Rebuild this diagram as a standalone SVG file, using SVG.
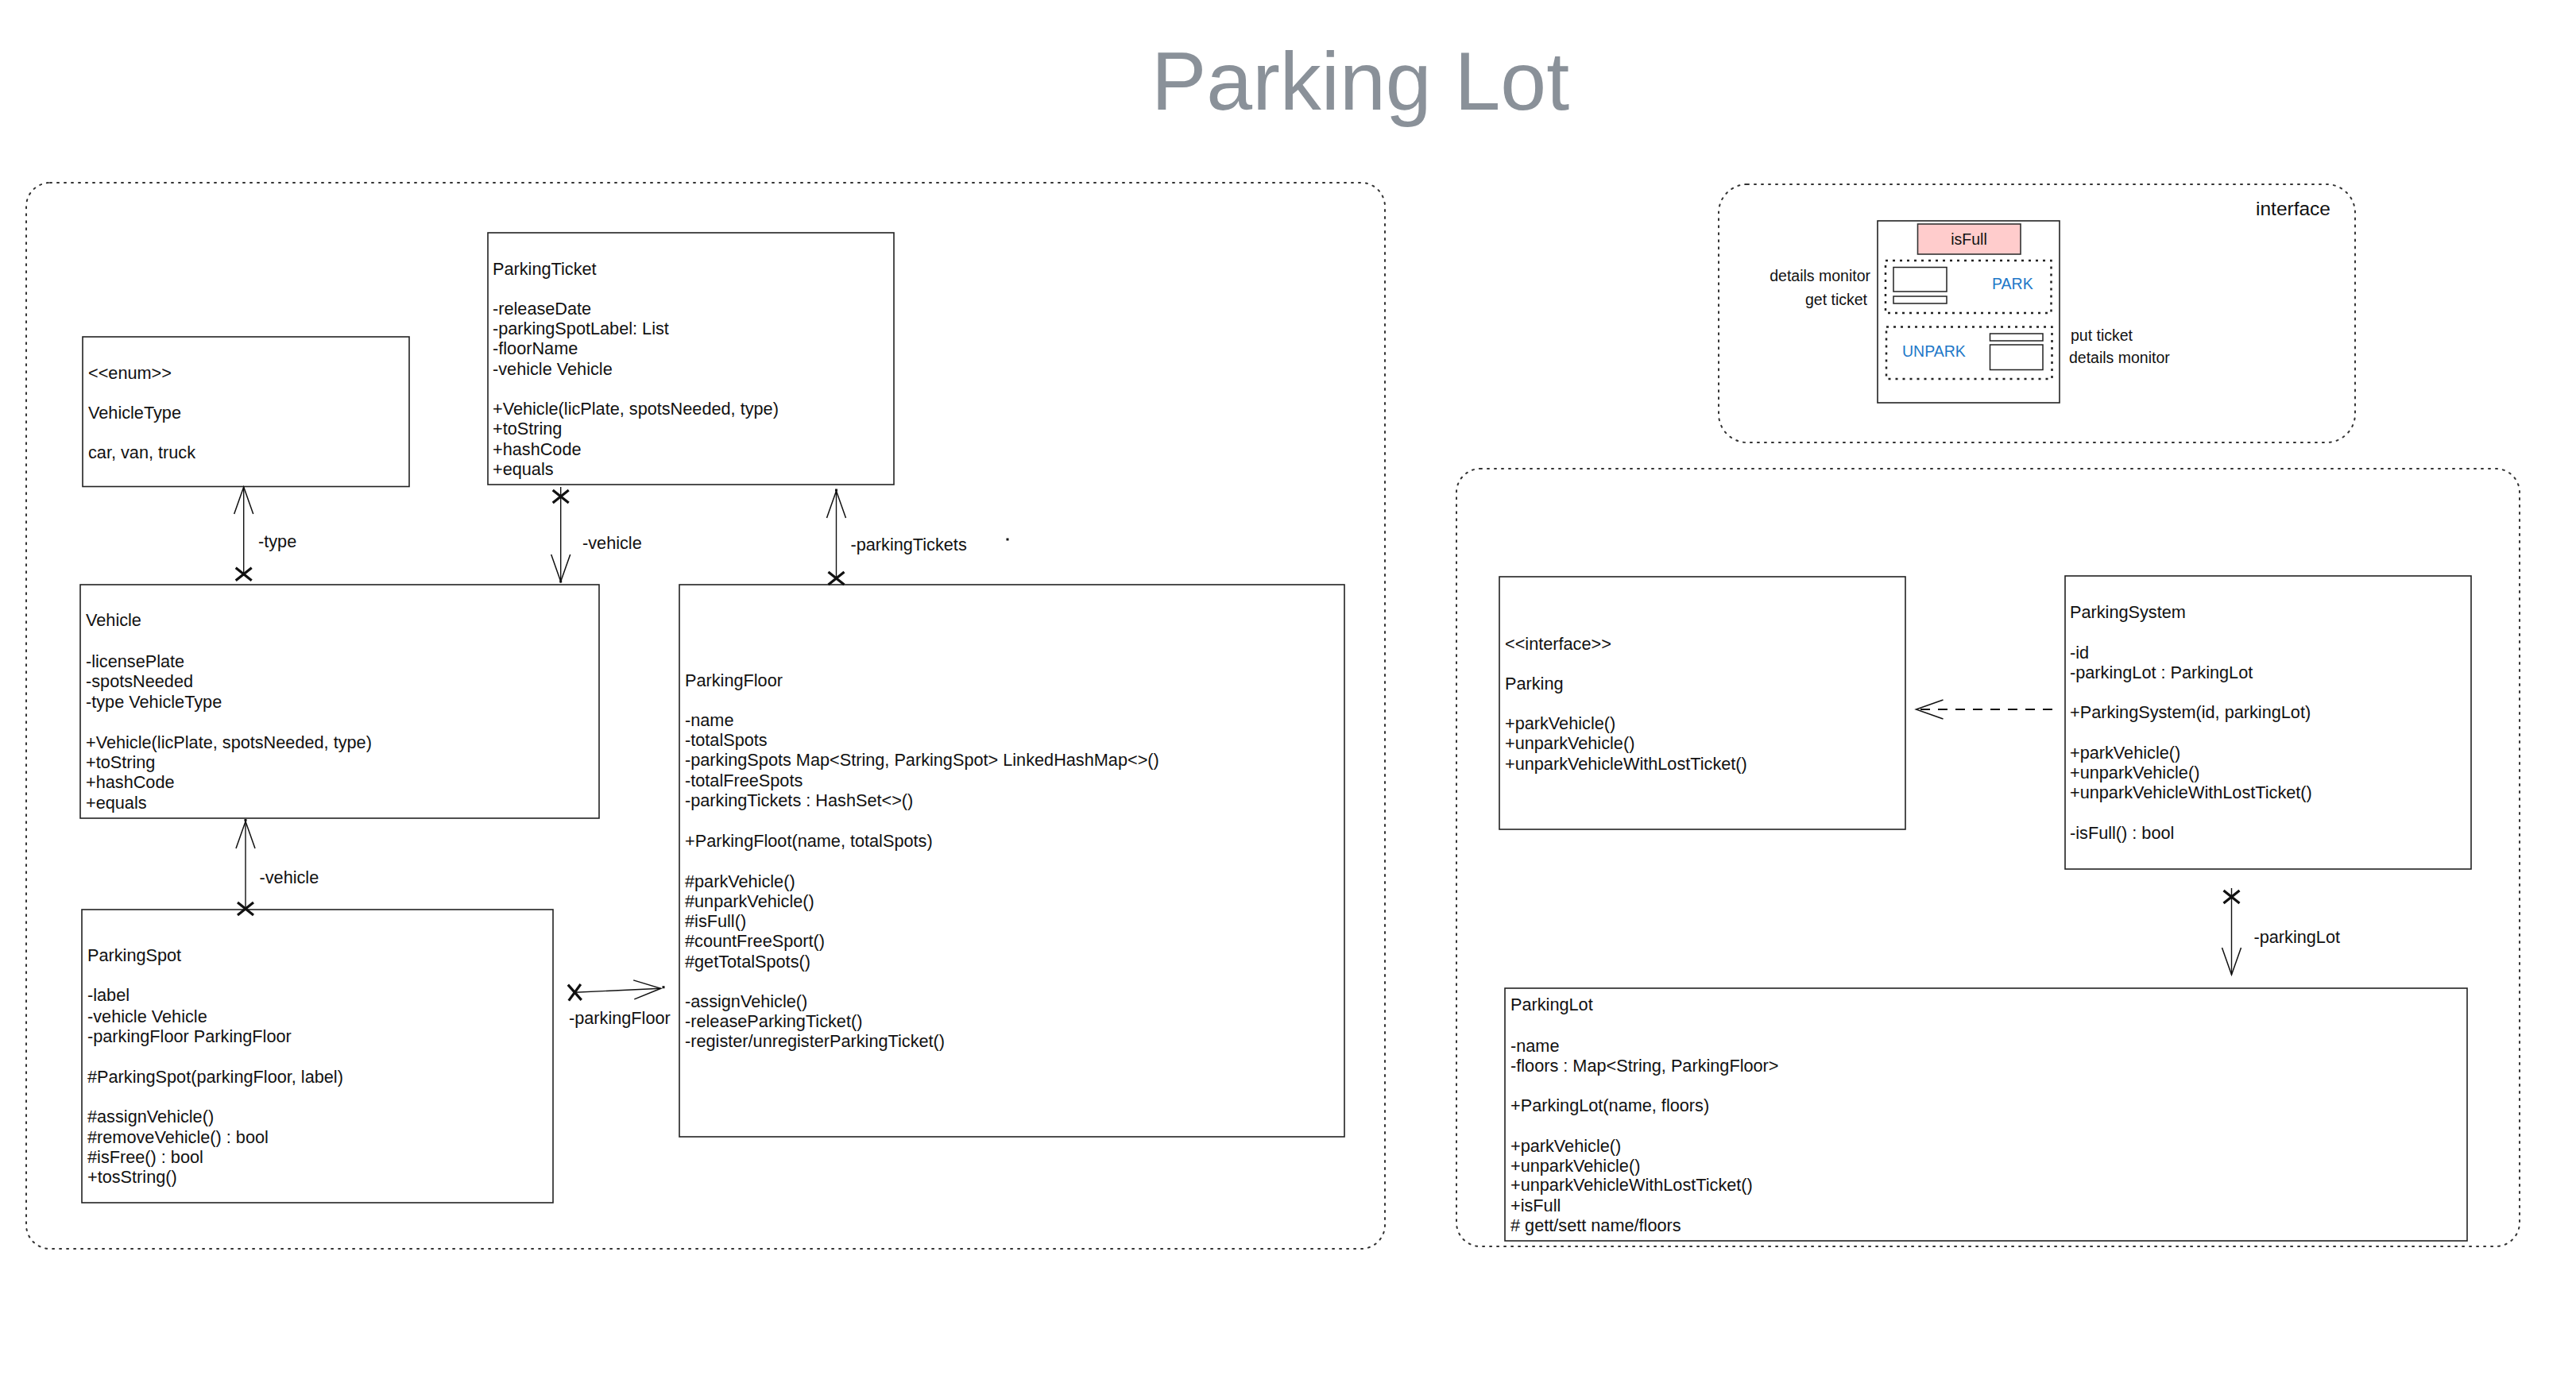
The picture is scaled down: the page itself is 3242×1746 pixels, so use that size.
<svg xmlns="http://www.w3.org/2000/svg" width="3242" height="1746" viewBox="0 0 3242 1746">
<style>
  .t { font-family: "Liberation Sans", Arial, Helvetica, sans-serif; font-size: 21.7px; fill: #111; }
  .s { font-family: "Liberation Sans", Arial, Helvetica, sans-serif; font-size: 19.5px; fill: #111; }
  .big { font-size: 24.5px; }
  .blue { fill: #1e78c8; }
  .box { fill: #fff; stroke: #222; stroke-width: 1.6; }
  .small { fill: #fff; stroke: #222; stroke-width: 1.5; }
  .group { fill: none; stroke: #333; stroke-width: 2; stroke-dasharray: 2 7; stroke-linecap: round; }
  .inner { fill: none; stroke: #222; stroke-width: 2.5; stroke-dasharray: 3 6; }
  .edge { fill: none; stroke: #111; stroke-width: 1.4; }
  .dashed { stroke-width: 1.8; stroke-dasharray: 12 10; }
  .dot { fill: #111; }
</style>
<defs>
  <marker id="open" markerUnits="userSpaceOnUse" viewBox="-38 -16 42 32" markerWidth="42" markerHeight="32" refX="0" refY="0" orient="auto-start-reverse">
    <path d="M-34,-12 L0,0 L-34,12" fill="none" stroke="#111" stroke-width="1.5" stroke-dasharray="none"/>
  </marker>
  <marker id="cross" markerUnits="userSpaceOnUse" viewBox="-14 -14 28 28" markerWidth="28" markerHeight="28" refX="0" refY="0" orient="auto">
    <path d="M-8,-10 L8,10 M8,-10 L-8,10" fill="none" stroke="#111" stroke-width="3.2" stroke-dasharray="none"/>
  </marker>
</defs>
<rect width="3242" height="1746" fill="#fff"/>

<text id="title" x="1449" y="138" font-family="Liberation Sans, Arial, Helvetica, sans-serif" font-size="104" fill="#8a9199">Parking Lot</text>

<!-- group frames -->
<rect id="frame-left" class="group" x="33" y="230" width="1710" height="1342" rx="30" ry="30"/>
<rect id="frame-right" class="group" x="1833" y="590" width="1338" height="979" rx="30" ry="30"/>

<!-- interface sketch -->
<g id="interface">
  <rect class="group" x="2163" y="232" width="801" height="325" rx="36" ry="36"/>
  <text class="t big" x="2839" y="271">interface</text>
  <rect class="box" x="2363" y="278" width="229" height="229"/>
  <rect x="2413.5" y="282" width="129.5" height="38" fill="#ffcccc" stroke="#333" stroke-width="1.6"/>
  <text class="s" x="2478" y="308" text-anchor="middle">isFull</text>
  <rect class="inner" x="2373" y="328" width="208.5" height="66"/>
  <rect class="small" x="2383" y="336.5" width="67" height="30.5"/>
  <rect class="small" x="2383" y="373" width="67" height="9"/>
  <text class="s blue" x="2507" y="364">PARK</text>
  <rect class="inner" x="2374" y="411.5" width="208.5" height="65.5"/>
  <rect class="small" x="2504.5" y="420" width="66.5" height="9"/>
  <rect class="small" x="2504.5" y="434" width="66.5" height="31.5"/>
  <text class="s blue" x="2394" y="448.5">UNPARK</text>
  <text class="s" x="2354" y="353.5" text-anchor="end">details monitor</text>
  <text class="s" x="2350" y="384" text-anchor="end">get ticket</text>
  <text class="s" x="2606" y="428.5">put ticket</text>
  <text class="s" x="2604" y="457">details monitor</text>
</g>

<!-- nodes -->
<g id="VehicleType">
  <rect class="box" x="104" y="424" width="411" height="188.5"/>
  <text class="t" x="111" y="477">&lt;&lt;enum&gt;&gt;</text>
  <text class="t" x="111" y="527">VehicleType</text>
  <text class="t" x="111" y="577">car, van, truck</text>
</g>

<g id="ParkingTicket">
  <rect class="box" x="614" y="293" width="511" height="317"/>
  <text class="t" x="620" y="345.5">ParkingTicket</text>
  <text class="t" x="620" y="396">-releaseDate</text>
  <text class="t" x="620" y="421">-parkingSpotLabel: List</text>
  <text class="t" x="620" y="446">-floorName</text>
  <text class="t" x="620" y="471.5">-vehicle Vehicle</text>
  <text class="t" x="620" y="522">+Vehicle(licPlate, spotsNeeded, type)</text>
  <text class="t" x="620" y="547">+toString</text>
  <text class="t" x="620" y="572.5">+hashCode</text>
  <text class="t" x="620" y="598">+equals</text>
</g>

<g id="Vehicle">
  <rect class="box" x="101" y="736" width="653" height="294"/>
  <text class="t" x="108" y="788">Vehicle</text>
  <text class="t" x="108" y="839.5">-licensePlate</text>
  <text class="t" x="108" y="865">-spotsNeeded</text>
  <text class="t" x="108" y="891">-type VehicleType</text>
  <text class="t" x="108" y="941.5">+Vehicle(licPlate, spotsNeeded, type)</text>
  <text class="t" x="108" y="967">+toString</text>
  <text class="t" x="108" y="992">+hashCode</text>
  <text class="t" x="108" y="1018">+equals</text>
</g>

<g id="ParkingSpot">
  <rect class="box" x="103" y="1145" width="593" height="369"/>
  <text class="t" x="110" y="1209.5">ParkingSpot</text>
  <text class="t" x="110" y="1260">-label</text>
  <text class="t" x="110" y="1286.5">-vehicle Vehicle</text>
  <text class="t" x="110" y="1312">-parkingFloor ParkingFloor</text>
  <text class="t" x="110" y="1363">#ParkingSpot(parkingFloor, label)</text>
  <text class="t" x="110" y="1413">#assignVehicle()</text>
  <text class="t" x="110" y="1438.5">#removeVehicle() : bool</text>
  <text class="t" x="110" y="1464">#isFree() : bool</text>
  <text class="t" x="110" y="1489">+tosString()</text>
</g>

<g id="ParkingFloor">
  <rect class="box" x="855" y="736" width="837" height="695"/>
  <text class="t" x="862" y="863.5">ParkingFloor</text>
  <text class="t" x="862" y="914">-name</text>
  <text class="t" x="862" y="939">-totalSpots</text>
  <text class="t" x="862" y="964">-parkingSpots Map&lt;String, ParkingSpot&gt; LinkedHashMap&lt;&gt;()</text>
  <text class="t" x="862" y="989.5">-totalFreeSpots</text>
  <text class="t" x="862" y="1015">-parkingTickets : HashSet&lt;&gt;()</text>
  <text class="t" x="862" y="1066">+ParkingFloot(name, totalSpots)</text>
  <text class="t" x="862" y="1116.5">#parkVehicle()</text>
  <text class="t" x="862" y="1141.5">#unparkVehicle()</text>
  <text class="t" x="862" y="1166.5">#isFull()</text>
  <text class="t" x="862" y="1192">#countFreeSport()</text>
  <text class="t" x="862" y="1217.5">#getTotalSpots()</text>
  <text class="t" x="862" y="1268">-assignVehicle()</text>
  <text class="t" x="862" y="1293">-releaseParkingTicket()</text>
  <text class="t" x="862" y="1318">-register/unregisterParkingTicket()</text>
</g>

<g id="Parking">
  <rect class="box" x="1887" y="726" width="511" height="318"/>
  <text class="t" x="1894" y="818">&lt;&lt;interface&gt;&gt;</text>
  <text class="t" x="1894" y="868">Parking</text>
  <text class="t" x="1894" y="918">+parkVehicle()</text>
  <text class="t" x="1894" y="943">+unparkVehicle()</text>
  <text class="t" x="1894" y="969">+unparkVehicleWithLostTicket()</text>
</g>

<g id="ParkingSystem">
  <rect class="box" x="2599" y="725" width="511" height="369"/>
  <text class="t" x="2605" y="777.5">ParkingSystem</text>
  <text class="t" x="2605" y="828.5">-id</text>
  <text class="t" x="2605" y="853.5">-parkingLot : ParkingLot</text>
  <text class="t" x="2605" y="903.5">+ParkingSystem(id, parkingLot)</text>
  <text class="t" x="2605" y="954.5">+parkVehicle()</text>
  <text class="t" x="2605" y="979.5">+unparkVehicle()</text>
  <text class="t" x="2605" y="1004.5">+unparkVehicleWithLostTicket()</text>
  <text class="t" x="2605" y="1055.5">-isFull() : bool</text>
</g>

<g id="ParkingLot">
  <rect class="box" x="1894" y="1244" width="1211" height="318"/>
  <text class="t" x="1901" y="1272">ParkingLot</text>
  <text class="t" x="1901" y="1323.5">-name</text>
  <text class="t" x="1901" y="1348.5">-floors : Map&lt;String, ParkingFloor&gt;</text>
  <text class="t" x="1901" y="1398.5">+ParkingLot(name, floors)</text>
  <text class="t" x="1901" y="1449.5">+parkVehicle()</text>
  <text class="t" x="1901" y="1474.5">+unparkVehicle()</text>
  <text class="t" x="1901" y="1499">+unparkVehicleWithLostTicket()</text>
  <text class="t" x="1901" y="1524.5">+isFull</text>
  <text class="t" x="1901" y="1549.5"># gett/sett name/floors</text>
</g>

<!-- connectors -->
<g id="connectors">
  <!-- Vehicle -> VehicleType (-type) -->
  <path class="edge" d="M306.7,722.7 L306.7,613" marker-start="url(#cross)" marker-end="url(#open)"/>
  <text class="t" x="325" y="689">-type</text>

  <!-- ParkingTicket -> Vehicle (-vehicle) -->
  <path class="edge" d="M705.7,625 L705.7,613 M705.7,625 L705.7,732" marker-start="url(#cross)" marker-end="url(#open)"/>
  <rect class="dot" x="704.2" y="730.5" width="3" height="3"/>
  <text class="t" x="733" y="690.5">-vehicle</text>

  <!-- ParkingFloor -> ParkingTicket (-parkingTickets) -->
  <path class="edge" d="M1052.5,728 L1052.5,618" marker-start="url(#cross)" marker-end="url(#open)"/>
  <rect class="dot" x="1051" y="615.5" width="3" height="3"/>
  <text class="t" x="1070.5" y="692.5">-parkingTickets</text>
  <rect class="dot" x="1266.5" y="677.5" width="3" height="3"/>

  <!-- ParkingSpot -> Vehicle (-vehicle) -->
  <path class="edge" d="M309,1144 L309,1034" marker-start="url(#cross)" marker-end="url(#open)"/>
  <rect class="dot" x="307.5" y="1031" width="3" height="3"/>
  <text class="t" x="326.5" y="1111.5">-vehicle</text>

  <!-- ParkingSpot -> ParkingFloor (-parkingFloor) -->
  <path class="edge" d="M723.3,1249.3 L831.7,1244.3" marker-start="url(#cross)" marker-end="url(#open)"/>
  <rect class="dot" x="833.5" y="1241.2" width="3" height="3"/>
  <text class="t" x="716" y="1289">-parkingFloor</text>

  <!-- ParkingSystem ..> Parking (realization) -->
  <path class="edge dashed" d="M2583,893 L2411.5,893" marker-end="url(#open)"/>

  <!-- ParkingSystem -> ParkingLot (-parkingLot) -->
  <path class="edge" d="M2808.5,1129 L2808.5,1118 M2808.5,1129 L2808.5,1227" marker-start="url(#cross)" marker-end="url(#open)"/>
  <text class="t" x="2836.5" y="1186.5">-parkingLot</text>
</g>
</svg>
